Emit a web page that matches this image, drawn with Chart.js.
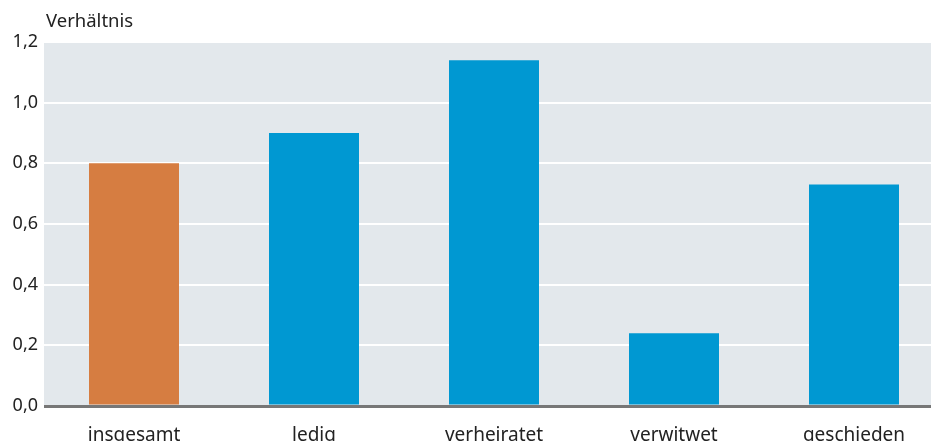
<!DOCTYPE html>
<html lang="de">
<head>
    <meta charset="UTF-8">
    <title>Verhältnis nach Familienstand</title>
    <script src="https://cdn.jsdelivr.net/npm/chart.js@4/dist/chart.umd.min.js"></script>
    <style>
        body { margin: 0; background: #fff; overflow: hidden; }
        #wrap { position: relative; width: 960px; height: 441px; }
    </style>
</head>
<body>
    <div id="wrap"><canvas id="chart"></canvas></div>

    <script>
        const categories = ['insgesamt', 'ledig', 'verheiratet', 'verwitwet', 'geschieden'];
        const ratios = [0.80, 0.90, 1.14, 0.24, 0.73];
        const barColors = ['#D67D41', '#0098D2', '#0098D2', '#0098D2', '#0098D2'];
        const axisTitle = 'Verhältnis';

        const FONT = '"Noto Sans", sans-serif';

        // grey plot background + axis caption
        const plotBg = {
            id: 'plotBg',
            beforeDraw(chart) {
                const { ctx, chartArea: a } = chart;
                ctx.save();
                ctx.fillStyle = '#E3E8EC';
                ctx.fillRect(a.left, a.top, a.right - a.left, a.bottom - a.top);
                ctx.restore();
            },
            afterDraw(chart) {
                const { ctx } = chart;
                ctx.save();
                ctx.font = '18.5px ' + FONT;
                ctx.fillStyle = '#222';
                ctx.textBaseline = 'middle';
                ctx.fillText(axisTitle, 46, 22);
                ctx.restore();
            }
        };

        new Chart(document.getElementById('chart'), {
            type: 'bar',
            data: {
                labels: categories,
                datasets: [{
                    data: ratios,
                    backgroundColor: barColors,
                    borderWidth: 0,
                    barPercentage: 0.5,
                    categoryPercentage: 1.0
                }]
            },
            options: {
                responsive: true,
                maintainAspectRatio: false,
                animation: false,
                layout: { padding: { top: 42, right: 16, left: 0, bottom: 0 } },
                plugins: { legend: { display: false }, tooltip: { enabled: false } },
                scales: {
                    x: {
                        grid: { display: false },
                        border: { display: false },
                        ticks: {
                            color: '#222',
                            font: { family: FONT, size: 19 },
                            padding: 10,
                            maxRotation: 0
                        },
                        afterFit(scale) { scale.height = 35; }
                    },
                    y: {
                        min: 0,
                        max: 1.2,
                        border: { display: false },
                        grid: {
                            drawTicks: false,
                            color: ctx => ctx.tick && ctx.tick.value === 0 ? '#777777' : '#FFFFFF',
                            lineWidth: ctx => ctx.tick && ctx.tick.value === 0 ? 3 : 2
                        },
                        ticks: {
                            stepSize: 0.2,
                            color: '#222',
                            font: { family: FONT, size: 18 },
                            padding: 6,
                            callback: v => v.toFixed(1).replace('.', ',')
                        },
                        afterFit(scale) { scale.width = 44; }
                    }
                }
            },
            plugins: [plotBg]
        });
    </script>
</body>
</html>
